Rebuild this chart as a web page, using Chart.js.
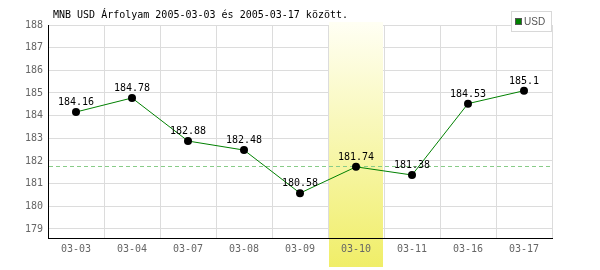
<!DOCTYPE html>
<html>
<head>
<meta charset="utf-8">
<script src="https://cdn.jsdelivr.net/npm/chart.js@4"></script>
<style>
  html, body { margin: 0; padding: 0; background: #fff; }
  #wrap { width: 600px; height: 270px; position: relative; }
</style>
</head>
<body>
<div id="wrap"><canvas id="rate-chart"></canvas></div>
<script>
// Chart data
const dates = ['03-03', '03-04', '03-07', '03-08', '03-09', '03-10', '03-11', '03-16', '03-17'];
const usdRates = [184.16, 184.78, 182.88, 182.48, 180.58, 181.74, 181.38, 184.53, 185.1];
const highlightIndex = 5;
const referenceRate = 181.74;
const yTicks = [179, 180, 181, 182, 183, 184, 185, 186, 187, 188];
const titleText = 'MNB USD Árfolyam 2005-03-03 és 2005-03-17 között.';
const seriesName = 'USD';

const mono = '"DejaVu Sans Mono", monospace';

// highlight band + dashed reference line, drawn over the grid
const bandPlugin = {
  id: 'band',
  beforeDatasetsDraw(chart) {
    const { ctx, chartArea, scales } = chart;
    const x = scales.x.getPixelForValue(highlightIndex);
    const half = (scales.x.getPixelForValue(1) - scales.x.getPixelForValue(0)) / 2;
    const left = x - half + 1;
    const right = x + half - 1;
    const top = chartArea.top - 3;
    const bottom = chart.height - 3;
    const grad = ctx.createLinearGradient(0, top, 0, bottom);
    grad.addColorStop(0, '#fffff4');
    grad.addColorStop(1, '#f0ee68');
    ctx.save();
    ctx.fillStyle = grad;
    ctx.fillRect(left, top, right - left, bottom - top);

    const y = scales.y.getPixelForValue(referenceRate);
    ctx.strokeStyle = '#88cc88';
    ctx.lineWidth = 1;
    ctx.setLineDash([4, 3]);
    ctx.beginPath();
    ctx.moveTo(chartArea.left + 1, Math.round(y) - 0.5);
    ctx.lineTo(chartArea.right, Math.round(y) - 0.5);
    ctx.stroke();
    ctx.restore();
  }
};

// title, legend box and value labels
const textPlugin = {
  id: 'texts',
  afterDatasetsDraw(chart) {
    const { ctx } = chart;
    const meta = chart.getDatasetMeta(0);
    ctx.save();
    ctx.fillStyle = '#000';
    ctx.font = '10px ' + mono;
    ctx.textAlign = 'center';
    ctx.textBaseline = 'alphabetic';
    meta.data.forEach((pt, i) => {
      ctx.fillText(String(usdRates[i]), pt.x, pt.y - 7);
    });

    ctx.textAlign = 'left';
    ctx.fillText(titleText, 53, 18);

    // legend box
    ctx.fillStyle = '#fff';
    ctx.fillRect(511, 11, 41, 21);
    ctx.strokeStyle = '#d8d8d8';
    ctx.strokeRect(511.5, 11.5, 40, 20);
    ctx.fillStyle = '#008000';
    ctx.fillRect(515, 18, 7, 7);
    ctx.strokeStyle = '#555';
    ctx.strokeRect(515.5, 18.5, 6, 6);
    ctx.fillStyle = '#555';
    ctx.font = '10px "Liberation Sans", sans-serif';
    ctx.textBaseline = 'middle';
    ctx.fillText(seriesName, 524, 22);
    ctx.restore();
  }
};

new Chart(document.getElementById('rate-chart'), {
  type: 'line',
  data: {
    labels: dates,
    datasets: [{
      label: seriesName,
      data: usdRates,
      borderColor: '#008000',
      borderWidth: 1,
      pointRadius: 4,
      pointHoverRadius: 4,
      pointBackgroundColor: '#000',
      pointBorderColor: '#000',
      pointBorderWidth: 0,
      tension: 0,
      fill: false
    }]
  },
  options: {
    responsive: true,
    maintainAspectRatio: false,
    animation: false,
    events: [],
    layout: { padding: { top: 25, right: 48, left: 0, bottom: 0 } },
    plugins: {
      legend: { display: false },
      title: { display: false },
      tooltip: { enabled: false }
    },
    scales: {
      x: {
        offset: true,
        grid: { offset: true, color: '#dcdcdc', drawTicks: false },
        border: { color: '#000', width: 1, z: 1 },
        ticks: {
          z: 1,
          color: '#666',
          padding: 5,
          maxRotation: 0,
          font: { family: mono, size: 10 }
        },
        afterFit(scale) { scale.height = 32; }
      },
      y: {
        min: 178.6,
        max: 188,
        grid: { color: '#dcdcdc', drawTicks: false },
        border: { color: '#000', width: 1 },
        afterBuildTicks(scale) {
          scale.ticks = yTicks.map(v => ({ value: v }));
        },
        ticks: {
          color: '#666',
          padding: 5,
          font: { family: mono, size: 10 }
        },
        afterFit(scale) { scale.width = 48; }
      }
    }
  },
  plugins: [bandPlugin, textPlugin]
});
</script>
</body>
</html>
